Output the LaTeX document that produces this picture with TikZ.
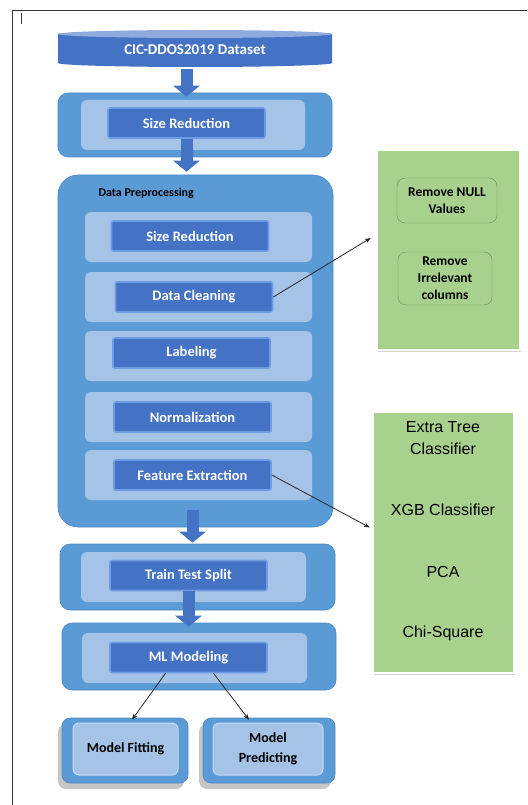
\documentclass[tikz,border=0pt]{standalone}
\usepackage{fontspec}
\setmainfont{Carlito}
\newfontfamily\arialfont{Liberation Sans}
\usetikzlibrary{arrows.meta,shadows,calc}

\definecolor{bluedark}{HTML}{4472C4}
\definecolor{blueedge}{HTML}{6F9BE6}
\definecolor{bluemid}{HTML}{5B9BD5}
\definecolor{blueline}{HTML}{4F88C6}
\definecolor{bluepanel}{HTML}{A5C3E7}
\definecolor{bluetop}{HTML}{8FAADC}
\definecolor{greenbox}{HTML}{A9D18E}
\definecolor{greenline}{HTML}{6B8A5A}

\begin{document}
\begin{tikzpicture}[x=1pt,y=-1pt,
    outerbox/.style={fill=bluemid, draw=blueline, line width=0.6pt, rounded corners=10pt, inner sep=0pt},
    panel/.style={fill=bluepanel, rounded corners=6pt, inner sep=0pt, minimum width=225pt, minimum height=50pt},
    button/.style={fill=bluedark, draw=blueedge, line width=1.6pt, rounded corners=2pt, inner sep=0pt,
        minimum width=157pt, minimum height=30pt, text=white, font=\bfseries\fontsize{14.5}{16}\selectfont},
    endbox/.style={fill=bluemid, draw=blueline, line width=0.6pt, rounded corners=8pt, inner sep=0pt,
        minimum height=65pt, drop shadow={shadow xshift=-4pt, shadow yshift=-6pt, opacity=.45}},
    endpanel/.style={fill=bluepanel, draw=blueedge!40, line width=1pt, rounded corners=6pt, inner sep=0pt,
        minimum height=52pt, align=center, font=\bfseries\fontsize{14}{20}\selectfont},
    greenpanel/.style={fill=greenbox, draw=white, line width=2.5pt, inner sep=0pt,
        drop shadow={shadow xshift=1pt, shadow yshift=-1.5pt, opacity=.35}},
    greenitem/.style={draw=greenline, rounded corners=8pt, inner sep=0pt, align=center,
        font=\bfseries\fontsize{13.5}{17}\selectfont},
    classtext/.style={align=center, font=\arialfont\fontsize{16}{22}\selectfont},
    blockarrow/.style={bluedark, line width=12pt, -{Triangle[width=26pt,length=11pt]}},
    thinarrow/.style={black!85, line width=0.8pt, -{Stealth[length=6pt,width=4.5pt]}}
]
\useasboundingbox (0,0) rectangle (527,805);

% page frame
\draw[black!80, line width=0.8pt] (12,805) -- (12,10) -- (527,10);
\draw[black!80, line width=0.8pt] (21,13) -- (21,24);

% dataset cylinder
\fill[bluedark] (58,34) -- (58,63) arc[start angle=180, end angle=0, x radius=137, y radius=4]
    -- (332,34) -- cycle;
\fill[bluetop] (195,34) ellipse[x radius=137, y radius=4];
\node[inner sep=0pt, minimum width=274pt, minimum height=37pt, text=white,
    font=\bfseries\fontsize{15}{17}\selectfont] (data) at (195,50) {CIC-DDOS2019 Dataset};

% size reduction
\node[outerbox, minimum width=274pt, minimum height=64pt] (sizebox) at (195,125) {};
\node[panel, minimum width=224pt] (sizepanel) at (193,125) {};
\node[button] (sizebtn) at (186.5,123) {Size Reduction};

% data preprocessing
\node[outerbox, rounded corners=20pt, minimum width=275pt, minimum height=352pt] (prep) at (195.5,351) {};
\node[anchor=west, font=\bfseries\fontsize{12}{14}\selectfont] (preplabel) at (95,193) {Data Preprocessing};
\node[panel, minimum width=227pt] (p1) at (198.5,237) {};
\node[panel, minimum width=227pt] (p2) at (198.5,297) {};
\node[panel, minimum width=227pt] (p3) at (198.5,356) {};
\node[panel, minimum width=227pt] (p4) at (198.5,417) {};
\node[panel, minimum width=227pt] (p5) at (198.5,475) {};
\node[button] (redbtn) at (190,236) {Size Reduction};
\node[button] (cleanbtn) at (194,297) {Data Cleaning};
\node[button] (labelbtn) at (191.5,353) {Labeling};
\node[button] (normbtn) at (192.5,417) {Normalization};
\node[button] (featbtn) at (192.5,475) {Feature Extraction};

% train test split
\node[outerbox, minimum width=275pt, minimum height=66pt] (ttbox) at (197.5,577) {};
\node[panel] (ttpanel) at (193.5,577) {};
\node[button] (ttbtn) at (188.5,575.5) {Train Test Split};

% ml modeling
\node[outerbox, minimum width=274pt, minimum height=67pt] (mlbox) at (199,656.5) {};
\node[panel] (mlpanel) at (194.5,658) {};
\node[button] (mlbtn) at (188.5,657.5) {ML Modeling};

% model fitting / predicting
\node[endbox, minimum width=126pt] (fitbox) at (125,750.5) {};
\node[endpanel, minimum width=105pt] (fit) at (125.5,749) {Model Fitting};
\node[endbox, minimum width=132pt] (predbox) at (269,750.5) {};
\node[endpanel, minimum width=110pt] (pred) at (268,749) {Model\\Predicting};

% cleaning steps
\node[greenpanel, minimum width=143pt, minimum height=200pt] (cleanbox) at (448.5,250) {};
\node[greenitem, minimum width=100pt, minimum height=45pt] (nullval) at (447,200.5) {Remove NULL\\Values};
\node[greenitem, minimum width=94pt, minimum height=53pt] (irrcol) at (445,278.5) {Remove\\Irrelevant\\columns};

% feature extraction methods
\node[greenpanel, minimum width=141pt, minimum height=261pt] (featbox) at (443.5,542.5) {};
\node[classtext] (extra) at (443,438) {Extra Tree\\Classifier};
\node[classtext] (xgb) at (443,510) {XGB Classifier};
\node[classtext] (pca) at (443,572) {PCA};
\node[classtext] (chi) at (443,633) {Chi-Square};

% flow arrows
\draw[blockarrow] (sizebtn.north |- data.south) -- ([yshift=-4pt]sizebtn.north |- sizebox.north);
\draw[blockarrow] (sizebtn.south) -- ([yshift=3pt]sizebtn.south |- prep.north);
\draw[blockarrow] ([yshift=17pt]featbtn.south |- prep.south) -- ([yshift=1pt]featbtn.south |- ttbox.north);
\draw[blockarrow] (ttbtn.south) -- ([yshift=-4pt]ttbtn.south |- mlbox.north);

\draw[thinarrow] (cleanbtn.east) -- ([xshift=-5pt,yshift=12pt]cleanbox.west);
\draw[thinarrow] (featbtn.east) -- ([xshift=-2pt,yshift=15pt]featbox.west);
\draw[thinarrow] ([xshift=-23pt]mlbtn.south) -- ([xshift=7pt,yshift=-2pt]fitbox.north);
\draw[thinarrow] ([xshift=25pt]mlbtn.south) -- ([xshift=-20pt,yshift=-2pt]predbox.north);

\end{tikzpicture}
\end{document}
